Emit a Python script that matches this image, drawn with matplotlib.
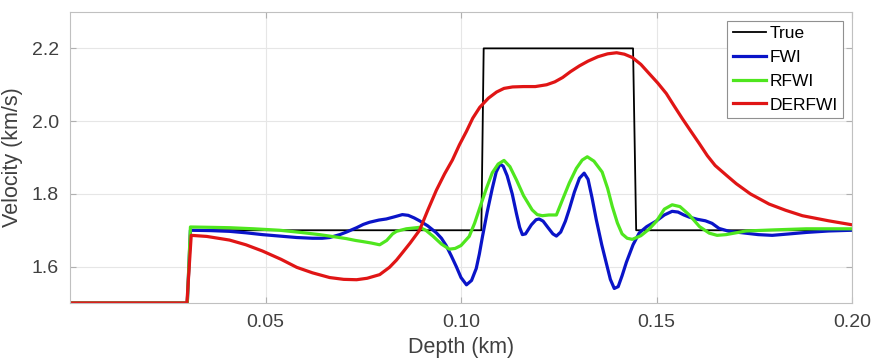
import matplotlib
matplotlib.use("Agg")
import matplotlib.pyplot as plt

plt.rcParams['font.family'] = ['Liberation Sans', 'DejaVu Sans']

# True model
true_x = [0.0, 0.0300, 0.0308, 0.1052, 0.1058, 0.1440, 0.1448, 0.2000]
true_v = [1.5, 1.5, 1.70, 1.70, 2.20, 2.20, 1.70, 1.70]

# FWI
fwi_x = [0.0, 0.0300, 0.0308, 0.0360, 0.0408, 0.0450, 0.0492, 0.0536, 0.0580, 0.0620,
         0.0645, 0.0664, 0.0690, 0.0707, 0.0733, 0.0750, 0.0766, 0.0790, 0.0809,
         0.0830, 0.0850, 0.0865, 0.0880, 0.0894, 0.0915, 0.0937, 0.0950, 0.0962,
         0.0975, 0.0988, 0.1000, 0.1014, 0.1027, 0.1039, 0.1047, 0.1055, 0.1067,
         0.1080, 0.1090, 0.1100, 0.1108, 0.1118, 0.1131, 0.1142, 0.1150, 0.1157,
         0.1165, 0.1180, 0.1192, 0.1200, 0.1210, 0.1222, 0.1235, 0.1244, 0.1255,
         0.1267, 0.1277, 0.1290, 0.1303, 0.1315, 0.1325, 0.1335, 0.1346, 0.1360,
         0.1372, 0.1382, 0.1392, 0.1402, 0.1412, 0.1423, 0.1440, 0.1456, 0.1475,
         0.1499, 0.1520, 0.1540, 0.1555, 0.1570, 0.1584, 0.1605, 0.1625, 0.1642,
         0.1660, 0.1686, 0.1720, 0.1760, 0.1796, 0.1840, 0.1883, 0.1940, 0.2000]
fwi_v = [1.5, 1.5, 1.700, 1.699, 1.697, 1.693, 1.688, 1.684, 1.680, 1.678,
         1.678, 1.680, 1.688, 1.695, 1.707, 1.716, 1.722, 1.728, 1.731,
         1.737, 1.743, 1.741, 1.734, 1.726, 1.712, 1.693, 1.678, 1.658,
         1.630, 1.600, 1.570, 1.550, 1.562, 1.595, 1.635, 1.683, 1.750,
         1.815, 1.860, 1.882, 1.876, 1.850, 1.800, 1.745, 1.708, 1.688,
         1.690, 1.715, 1.729, 1.731, 1.725, 1.708, 1.690, 1.684, 1.695,
         1.725, 1.758, 1.805, 1.843, 1.857, 1.840, 1.790, 1.729, 1.660,
         1.608, 1.565, 1.540, 1.545, 1.575, 1.612, 1.660, 1.693, 1.710,
         1.725, 1.742, 1.752, 1.750, 1.742, 1.736, 1.730, 1.726, 1.719,
         1.705, 1.697, 1.693, 1.688, 1.686, 1.690, 1.694, 1.698, 1.700]

# RFWI
rfwi_x = [0.0, 0.0300, 0.0308, 0.0360, 0.0408, 0.0470, 0.0536, 0.0590, 0.0638, 0.0670,
          0.0707, 0.0730, 0.0748, 0.0770, 0.0792, 0.0810, 0.0825, 0.0835, 0.0860,
          0.0894, 0.0910, 0.0928, 0.0950, 0.0970, 0.0985, 0.1000, 0.1021, 0.1035,
          0.1050, 0.1065, 0.1080, 0.1095, 0.1110, 0.1125, 0.1142, 0.1160, 0.1182,
          0.1195, 0.1208, 0.1225, 0.1244, 0.1260, 0.1277, 0.1295, 0.1310, 0.1323,
          0.1340, 0.1361, 0.1375, 0.1387, 0.1400, 0.1412, 0.1425, 0.1438, 0.1460,
          0.1481, 0.1500, 0.1520, 0.1540, 0.1560, 0.1584, 0.1610, 0.1635, 0.1655,
          0.1678, 0.1729, 0.1800, 0.1883, 0.2000]
rfwi_v = [1.5, 1.5, 1.709, 1.708, 1.707, 1.704, 1.700, 1.694, 1.688, 1.683,
          1.677, 1.672, 1.669, 1.665, 1.660, 1.672, 1.690, 1.697, 1.704,
          1.708, 1.700, 1.684, 1.662, 1.648, 1.650, 1.658, 1.683, 1.720,
          1.768, 1.815, 1.858, 1.882, 1.892, 1.875, 1.838, 1.795, 1.756,
          1.743, 1.740, 1.742, 1.742, 1.785, 1.830, 1.870, 1.893, 1.902,
          1.890, 1.860, 1.815, 1.765, 1.720, 1.690, 1.678, 1.675, 1.685,
          1.703, 1.725, 1.758, 1.770, 1.765, 1.742, 1.710, 1.692, 1.686,
          1.688, 1.698, 1.701, 1.704, 1.704]

# DERFWI
derfwi_x = [0.0, 0.0299, 0.0310, 0.0350, 0.0408, 0.0450, 0.0492, 0.0540, 0.0580,
            0.0620, 0.0664, 0.0700, 0.0733, 0.0760, 0.0792, 0.0817, 0.0835, 0.0850,
            0.0870, 0.0894, 0.0915, 0.0937, 0.0958, 0.0978, 0.0996, 0.1014, 0.1030,
            0.1048, 0.1070, 0.1091, 0.1110, 0.1132, 0.1160, 0.1190, 0.1219, 0.1240,
            0.1260, 0.1280, 0.1303, 0.1325, 0.1350, 0.1375, 0.1398, 0.1418, 0.1438,
            0.1460, 0.1481, 0.1503, 0.1525, 0.1545, 0.1566, 0.1588, 0.1609, 0.1630,
            0.1650, 0.1680, 0.1704, 0.1740, 0.1788, 0.1830, 0.1873, 0.1940, 0.2000]
derfwi_v = [1.5, 1.5, 1.686, 1.683, 1.673, 1.660, 1.643, 1.620, 1.598,
            1.583, 1.570, 1.565, 1.564, 1.568, 1.578, 1.598, 1.618, 1.638,
            1.665, 1.700, 1.755, 1.810, 1.855, 1.893, 1.935, 1.972, 2.008,
            2.038, 2.063, 2.080, 2.090, 2.094, 2.095, 2.095, 2.100, 2.108,
            2.120, 2.136, 2.152, 2.165, 2.177, 2.185, 2.188, 2.184, 2.175,
            2.156, 2.131, 2.105, 2.076, 2.042, 2.007, 1.972, 1.939, 1.905,
            1.878, 1.850, 1.828, 1.800, 1.772, 1.755, 1.740, 1.726, 1.715]

x_ticks = [0.05, 0.10, 0.15, 0.20]
x_ticklabels = ['0.05', '0.10', '0.15', '0.20']
y_ticks = [1.6, 1.8, 2.0, 2.2]
y_ticklabels = ['1.6', '1.8', '2.0', '2.2']

fig = plt.figure(figsize=(8.72, 3.61), dpi=100)
ax = fig.add_axes([70/872, 1 - 303/361, (852 - 70)/872, (303 - 12)/361])

ax.plot(true_x, true_v, color='black', lw=1.3, label='True')
ax.plot(fwi_x, fwi_v, color='#0a14c8', lw=2.3, label='FWI')
ax.plot(rfwi_x, rfwi_v, color='#4fe61e', lw=2.3, label='RFWI')
ax.plot(derfwi_x, derfwi_v, color='#e01515', lw=2.3, label='DERFWI')

ax.set_xlim(0, 0.2)
ax.set_ylim(1.5, 2.3)
ax.set_xticks(x_ticks)
ax.set_xticklabels(x_ticklabels)
ax.set_yticks(y_ticks)
ax.set_yticklabels(y_ticklabels)
ax.grid(True, color='#e6e6e6', lw=0.8)
ax.set_axisbelow(True)
ax.tick_params(direction='in', length=4, width=0.8, colors='#b0b0b0',
               labelcolor='#404040', labelsize=14, top=True, right=True, pad=8)
for s in ax.spines.values():
    s.set_color('#c0c0c0')
    s.set_linewidth(0.8)

ax.set_xlabel('Depth (km)', fontsize=15.5, color='#404040', labelpad=4)
ax.set_ylabel('Velocity (km/s)', fontsize=15.5, color='#404040', labelpad=6)

leg = ax.legend(loc='upper right', fontsize=12.5, frameon=True, fancybox=False,
                edgecolor='#909090', framealpha=1, handlelength=1.9,
                handletextpad=0.25, labelspacing=0.5, borderpad=0.3,
                borderaxespad=0.5)
leg.get_frame().set_linewidth(0.8)

fig.savefig('out.png', dpi=100)
